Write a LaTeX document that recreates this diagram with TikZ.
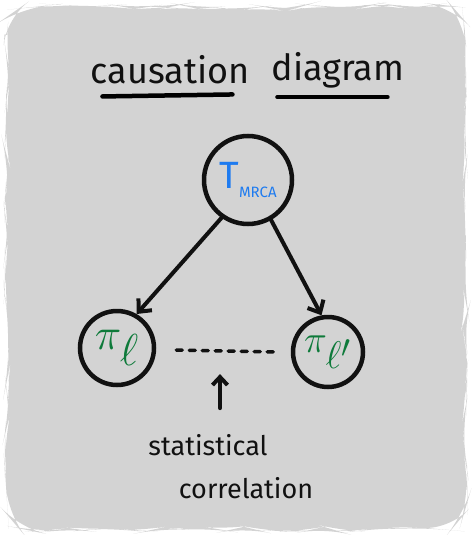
\documentclass[tikz,border=0pt]{standalone}
\usepackage{fontspec}
\setmainfont{Fira Sans}
\usetikzlibrary{arrows.meta,positioning,calc,decorations.pathmorphing}
\definecolor{SketchPaper}{HTML}{D3D3D3}
\definecolor{SketchInk}{HTML}{111111}
\definecolor{SketchBlue}{HTML}{1E7BF0}
\definecolor{SketchGreen}{HTML}{0E7A3A}

\begin{document}
\begin{tikzpicture}[
    x=1pt, y=-1pt,
    popnode/.style={
      circle, draw=SketchInk, line width=4.5pt, inner sep=0pt,
      font=\fontsize{44}{46}\selectfont
    },
    arr/.style={-{Straight Barb[length=10pt, width=18pt]}, line width=4pt,
      color=SketchInk, line cap=round},
    darr/.style={line width=3.5pt, color=SketchInk, dash pattern=on 6pt off 7pt,
      line cap=round},
    note/.style={font=\fontsize{27}{30}\selectfont, text=SketchInk, align=left},
    every node/.style={inner sep=2pt}
  ]

  % Paper
  \useasboundingbox (0,0) rectangle (471,535);
  \fill[SketchPaper, rounded corners=28pt,
        decorate, decoration={random steps, segment length=16pt, amplitude=2.5pt}]
    (7,7) rectangle (465,529);

  % Title
  \node[font=\fontsize{36}{38}\selectfont, text=SketchInk] (causation) at (170,70) {causation};
  \node[font=\fontsize{36}{38}\selectfont, text=SketchInk] (diagram) at (338,70) {diagram};
  \draw[line width=4.5pt, line cap=round] (causation.south west) ++(14,10) coordinate (u1)
    -- ($(u1)+(130,-2)$);
  \draw[line width=4.5pt, line cap=round] (diagram.south west) ++(8,7) coordinate (u2)
    -- ($(u2)+(110,0)$);

  % Populations
  \node[popnode, minimum size=88pt, text=SketchBlue, font=\fontsize{38}{40}\selectfont]
    (mrca) at (248,180)
    {T\raisebox{-0.45ex}{\fontsize{15}{15}\selectfont MRCA}};
  \node[popnode, minimum size=74pt, text=SketchGreen] (pil) at (117,348)
    {\scalebox{1.8}{$\pi_{\ell}$}};
  \node[popnode, minimum size=70pt, text=SketchGreen] (pilp) at (328,352)
    {\scalebox{1.55}{$\pi_{\ell'}$}};

  % Arrows
  \draw[arr] (mrca.235) -- (pil.60);
  \draw[arr] (mrca.-60) -- (pilp.100);
  \draw[darr] (pil.east) ++(20,2) coordinate (d1) -- ($(pilp.west)+(-12,0)$);

  % Annotation
  \node[note] (stat) at (208,445) {statistical};
  \node[note] (corr) at (246,488) {correlation};
  \draw[arr, -{Straight Barb[length=8pt, width=15pt]}] (stat.north) ++(12,-24) coordinate (a1)
    -- ($(a1)+(0,-34)$);

\end{tikzpicture}
\end{document}
